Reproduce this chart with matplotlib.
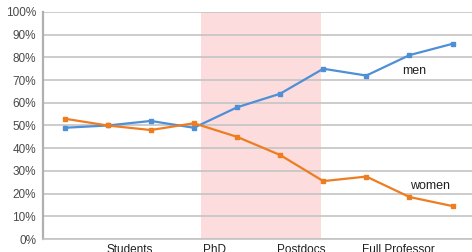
import matplotlib.pyplot as plt

men = [49, 50, 52, 49, 58, 64, 75, 72, 81, 86]
women = [53, 50, 48, 51, 45, 37, 25.5, 27.5, 18.5, 14.5]
yticks = [0, 10, 20, 30, 40, 50, 60, 70, 80, 90, 100]
stage_labels = ['Students', 'PhD', 'Postdocs', 'Full Professor']
stage_pos = [1.5, 3.48, 5.5, 7.75]

plt.rcParams['font.family'] = ['Liberation Sans', 'DejaVu Sans']

fig = plt.figure(figsize=(4.72, 2.52), dpi=100)
ax = fig.add_axes([43/472, 13/252, 429/472, 227/252])

x = list(range(len(men)))
ax.axvspan(3.16, 5.94, color='#fcdcdc', zorder=0, lw=0)
ax.plot(x, men, color='#4f8fd6', lw=1.6, marker='s', ms=3, zorder=3)
ax.plot(x, women, color='#ee7d22', lw=1.6, marker='s', ms=3, zorder=3)

ax.set_xlim(-0.5, 9.45)
ax.set_ylim(0, 100)
ax.set_yticks(yticks)
ax.set_yticklabels([f'{t}%' for t in yticks], color='#4a4a4a', fontsize=8.5)
ax.set_xticks([])
ax.tick_params(axis='y', length=0, pad=5)
ax.grid(axis='y', color='#c4c4c4', lw=1.2)
ax.set_axisbelow(True)
for s in ['top', 'right']:
    ax.spines[s].set_visible(False)
ax.spines['bottom'].set_color('#c4c4c4')
ax.spines['bottom'].set_linewidth(1.2)
ax.spines['left'].set_color('#b0b0b0')
ax.spines['left'].set_linewidth(1.6)

for lab, p in zip(stage_labels, stage_pos):
    ax.text(p, -2.4, lab, ha='center', va='top', fontsize=8.5, color='#202020', clip_on=False)

ax.text(7.82, 74, 'men', fontsize=9, color='#202020', va='center')
ax.text(8.02, 23.5, 'women', fontsize=9, color='#202020', va='center')

fig.savefig('out.png', dpi=100)
